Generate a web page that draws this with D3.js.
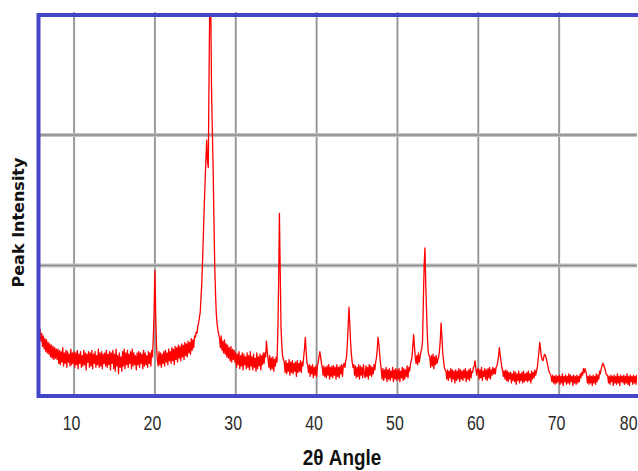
<!DOCTYPE html>
<html>
<head>
<meta charset="utf-8">
<script src="https://cdn.jsdelivr.net/npm/d3@7"></script>
<style>
  html, body { margin: 0; padding: 0; background: #fff; }
  svg { display: block; }
</style>
</head>
<body>
<svg id="chart" width="638" height="471"></svg>
<script>
// ---- data ----
const scanStart = 5.6;   // first 2θ of the scan (degrees)
const scanStep = 0.1;    // 2θ step of the scan (degrees)
const intensity = [
  560,470,510,420,
  480,380,460,360,440,340,430,330,410,320, 400,300,390,290,380,280,370,290,360,280,
  360,250,350,240,340,260,370,230,330,250, 350,220,340,260,320,230,360,240,330,250,
  340,220,330,240,350,210,320,250,340,220, 310,230,350,240,330,200,320,260,340,220,
  330,230,350,210,320,250,340,220,310,240, 360,220,330,230,340,210,320,250,330,230,
  350,220,320,240,340,200,330,250,350,210, 320,190,360,230,310,170,330,220,300,190,
  340,230,360,210,330,240,350,220,320,250, 340,210,360,230,330,240,310,200,330,240,
  340,220,330,250,320,210,350,230,330,240, 310,220,340,250,330,230,350,300,450,650,
  960,620,380,280,230,340,240,330,220,320, 250,340,230,350,260,330,240,360,270,340,
  250,370,270,360,240,380,280,370,260,390, 290,380,270,400,300,390,280,410,310,400,
  300,420,330,410,320,440,350,430,370,460, 450,490,480,530,560,600,640,750,870,1050,
  1250,1450,1630,1800,1960,1800,1750,2500,3100,3050, 2350,2050,1750,1350,990,780,620,550,500,470,
  440,370,460,350,420,330,430,320,400,300, 390,290,370,270,380,260,360,280,350,260,
  330,220,320,240,340,210,310,230,330,200, 320,240,300,210,330,220,310,200,340,230,
  300,200,320,220,290,190,330,210,300,230, 320,200,310,240,330,250,330,300,420,340,
  280,220,310,200,290,210,300,190,280,230, 300,260,480,850,1400,950,520,390,300,280,
  260,180,270,170,250,190,280,160,260,180, 270,170,250,190,260,150,270,180,250,190,
  270,180,260,230,300,360,450,350,260,230, 180,240,150,230,170,240,140,220,160,230,
  150,230,260,300,340,300,250,220,160,230, 150,220,140,230,160,240,130,220,150,230,
  140,230,160,220,130,240,150,220,140,230, 170,240,150,230,250,220,270,300,400,530,
  680,560,420,320,260,220,240,160,230,140, 220,150,240,130,230,160,220,140,240,170,
  140,230,150,220,130,240,160,230,150,220, 170,240,200,260,290,360,450,400,320,250,
  200,130,210,120,200,140,220,110,200,130, 210,120,190,140,220,110,200,130,210,120,
  200,130,210,110,190,140,220,120,210,130, 200,150,230,140,220,190,240,270,300,380,
  470,380,300,250,310,240,330,260,300,340, 360,420,720,1000,1135,850,650,460,340,310,
  300,220,310,230,320,210,300,240,310,250, 280,300,350,430,560,450,330,270,220,200,
  190,130,200,120,190,140,210,110,200,130, 190,100,200,120,190,130,210,110,200,130,
  190,120,200,140,210,110,190,130,200,120, 210,140,190,180,220,230,270,210,160,200,
  210,130,200,140,220,120,190,150,210,130, 200,120,210,140,220,130,200,160,220,170,
  210,170,220,230,260,300,370,320,270,220, 200,150,190,130,200,120,190,110,180,130,
  180,100,170,120,190,110,180,90,170,120, 190,100,170,120,180,100,190,110,170,120,
  180,110,190,120,170,100,190,130,180,140, 200,160,190,220,280,340,410,360,300,280,
  270,300,320,310,290,260,230,200,180,170, 150,110,160,100,150,90,160,100,150,110,
  160,90,150,100,170,80,150,110,160,90, 150,100,170,90,160,110,150,80,160,100,
  150,90,160,100,150,110,170,140,180,160, 210,180,210,190,160,100,150,90,160,100,
  150,80,160,100,150,90,170,110,160,130, 190,170,210,230,250,240,220,200,170,160,
  160,100,150,90,160,110,150,80,160,100, 150,90,170,100,150,80,160,110,150,100,
  160,90,150,100,170,90,150,80,160,110, 150,90,160,100,150,90,160,110,150,120
];
const xTicks = [10, 20, 30, 40, 50, 60, 70, 80];
const yGridValues = [1000, 2000];
const xDomain = [5.6, 80];
const yDomain = [0, 2920];
const xTitle = "2θ Angle";
const yTitle = "Peak Intensity";

(function () {
const points = intensity.map((v, i) => ({ a: scanStart + i * scanStep, v }));

// ---- layout ----
const pLeft = 38.5, pRight = 640, pTop = 15, pBottom = 396;
const svg = d3.select("#chart");
svg.append("rect").attr("width", 638).attr("height", 471).attr("fill", "#fff");

const x = d3.scaleLinear().domain(xDomain).range([pLeft, pRight]);
const y = d3.scaleLinear().domain(yDomain).range([pBottom, pTop]);

// vertical grid lines
svg.append("g")
  .selectAll("line").data(xTicks).join("line")
  .attr("x1", d => x(d)).attr("x2", d => x(d))
  .attr("y1", 12).attr("y2", pBottom)
  .attr("stroke", "#a8a8a8").attr("stroke-width", 2);
svg.append("g")
  .selectAll("line").data(xTicks).join("line")
  .attr("x1", d => x(d)).attr("x2", d => x(d))
  .attr("y1", 12).attr("y2", pBottom)
  .attr("stroke", "#8a8a8a").attr("stroke-width", 0.8);

// horizontal grid lines
svg.append("g")
  .selectAll("line").data(yGridValues).join("line")
  .attr("x1", pLeft).attr("x2", 637)
  .attr("y1", d => y(d)).attr("y2", d => y(d))
  .attr("stroke", "#c4c4c4").attr("stroke-width", 4);
svg.append("g")
  .selectAll("line").data(yGridValues).join("line")
  .attr("x1", pLeft).attr("x2", 637)
  .attr("y1", d => y(d)).attr("y2", d => y(d))
  .attr("stroke", "#8c8c8c").attr("stroke-width", 1.6);

// clip for the trace
svg.append("clipPath").attr("id", "plotClip")
  .append("rect").attr("x", pLeft).attr("y", 13)
  .attr("width", 637 - pLeft).attr("height", pBottom - 13);

const line = d3.line().x(d => x(d.a)).y(d => y(d.v));
svg.append("path")
  .datum(points)
  .attr("clip-path", "url(#plotClip)")
  .attr("fill", "none")
  .attr("stroke", "#ff0000")
  .attr("stroke-width", 1.3)
  .attr("stroke-linejoin", "round")
  .attr("d", line);

// frame (right edge falls outside the picture)
svg.append("rect")
  .attr("x", pLeft).attr("y", pTop)
  .attr("width", pRight + 10 - pLeft).attr("height", pBottom - pTop)
  .attr("fill", "none")
  .attr("stroke", "#4545c8")
  .attr("stroke-width", 4);

// x axis labels through d3 axis
const xAxis = d3.axisBottom(x).tickValues(xTicks).tickSize(0).tickPadding(0).tickFormat(d3.format("d"));
const gx = svg.append("g").attr("transform", `translate(0,${pBottom})`).call(xAxis);
gx.select(".domain").remove();
gx.selectAll("text")
  .attr("y", 34)
  .attr("dy", 0)
  .attr("font-family", "'Liberation Sans', Arial, sans-serif")
  .attr("font-size", 21)
  .attr("fill", "#2a2a2a")
  .attr("transform", "scale(0.76,1)")
  .attr("dx", -4);
// keep last label inside the picture
gx.selectAll(".tick").each(function(d) {
  const t = d3.select(this).select("text");
  const bb = this.getBBox();
  const rightEdge = x(d) + bb.x + bb.width;
  if (rightEdge > 637) t.attr("dx", -4 - (rightEdge - 637) / 0.76);
});

// titles
svg.append("g")
  .attr("transform", "translate(342,465) scale(0.86,1)")
  .append("text")
  .attr("text-anchor", "middle")
  .attr("font-family", "'Liberation Sans', Arial, sans-serif")
  .attr("font-weight", "bold")
  .attr("font-size", 22)
  .attr("fill", "#111")
  .text(xTitle);

svg.append("text")
  .attr("transform", "translate(24,222.5) rotate(-90)")
  .attr("text-anchor", "middle")
  .attr("font-family", "'DejaVu Sans', Verdana, sans-serif")
  .attr("font-weight", "bold")
  .attr("font-size", 16)
  .attr("fill", "#111")
  .text(yTitle);
})();
</script>
</body>
</html>
